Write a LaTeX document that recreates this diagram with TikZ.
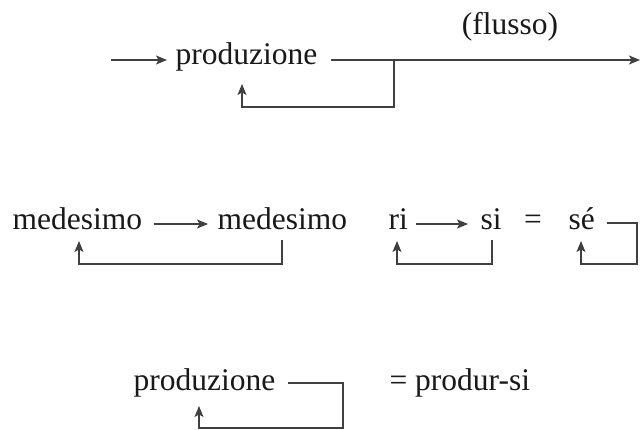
\documentclass[tikz,border=0pt]{standalone}
\usepackage{fontspec}
\setmainfont{Liberation Serif}
\usetikzlibrary{arrows.meta}
\newcommand\fsz{\fontsize{31.5}{38}\selectfont}
\begin{document}
\begin{tikzpicture}[x=1pt,y=-1pt,
  line width=1.2pt, draw=black!75,
  txt/.style={inner sep=0pt, anchor=base west, font=\fsz, text=black!90},
  arr/.style={draw=black!75, -{Stealth[length=11pt,width=9pt,inset=2.5pt]}},
  ln/.style={draw=black!75}]
\useasboundingbox (0,0) rectangle (640,430);
\fill[white] (0,0) rectangle (640,430);

% ---- row 1
\node[txt] (p1) at (175,65) {produzione};
\node[inner sep=0pt, font=\fsz, text=black!90] (fl) at (510,27) {(flusso)};
\coordinate (in1) at (111,60);
\coordinate (o1) at (640,60);
\coordinate (b1) at (394,60);
\coordinate (d1) at (394,107);
\coordinate (t1) at (242,84);
\draw[arr, shorten >=8pt] (in1) -- (in1 -| p1.west);
\draw[arr, shorten <=13pt] (p1.east |- o1) -- (o1);
\draw[arr] (b1) -- (d1) -| (t1);

% ---- row 2
\node[txt] (m1) at (12,230) {medesimo};
\node[txt] (m2) at (217,230) {medesimo};
\node[txt] (ri) at (388,230) {ri};
\node[txt] (si) at (480,230) {si};
\node[txt, anchor=base] (eq) at (533,230) {=};
\node[txt] (se) at (568,230) {sé};
\coordinate (a2) at (0,224);
\draw[arr, shorten <=11pt, shorten >=9pt] (m1.east |- a2) -- (m2.west |- a2);
\draw[arr, shorten <=8pt, shorten >=12pt] (ri.east |- a2) -- (si.west |- a2);
\coordinate (m2d) at (282,240);
\coordinate (m2b) at (282,264);
\coordinate (m1t) at (79,241);
\draw[arr] (m2d) -- (m2b) -| (m1t);
\coordinate (sid) at (492,240);
\coordinate (sib) at (492,264);
\coordinate (rit) at (397,241);
\draw[arr] (sid) -- (sib) -| (rit);
\coordinate (sea) at (607,223);
\coordinate (seb) at (637,223);
\coordinate (sec) at (637,264);
\coordinate (set) at (581,241);
\draw[arr] (sea) -- (seb) -- (sec) -| (set);

% ---- row 3
\node[txt] (p3) at (133,390) {produzione};
\node[txt] (ps) at (389,390) {= produr-si};
\coordinate (r3a) at (288,383);
\coordinate (r3b) at (343,383);
\coordinate (r3c) at (343,428);
\coordinate (r3t) at (199,406);
\draw[arr] (r3a) -- (r3b) -- (r3c) -| (r3t);
\end{tikzpicture}
\end{document}
